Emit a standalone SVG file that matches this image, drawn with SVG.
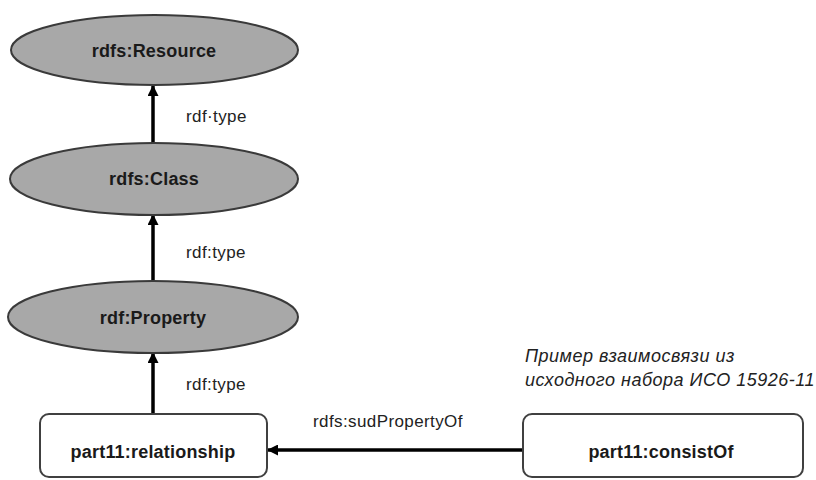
<svg xmlns="http://www.w3.org/2000/svg" width="816" height="480" viewBox="0 0 816 480">
<style>
.ell{fill:#a8a8a8;stroke:#3a3a3a;stroke-width:2}
.box{fill:#fff;stroke:#404040;stroke-width:2}
.nt{font-family:"Liberation Sans",Arial,sans-serif;font-weight:bold;font-size:18px;fill:#1a1a1a;text-anchor:middle;letter-spacing:0.2px}
.lb{font-family:"Liberation Sans",Arial,sans-serif;font-size:17px;fill:#222;letter-spacing:0.4px}
.it{font-family:"Liberation Sans",Arial,sans-serif;font-size:18px;font-style:italic;fill:#222;letter-spacing:0.5px}
.edge{stroke:#000;stroke-width:3.5;fill:none;marker-end:url(#ah)}
</style>
<defs>
<marker id="ah" markerWidth="11" markerHeight="11" refX="10" refY="5.5" orient="auto" markerUnits="userSpaceOnUse" viewBox="0 0 11 11">
<path d="M0,0 L11,5.5 L0,11 Z" fill="#000"/>
</marker>
</defs>
<g id="edges">
<line class="edge" x1="153" y1="143" x2="153" y2="86"/>
<line class="edge" x1="153" y1="281" x2="153" y2="215"/>
<line class="edge" x1="153" y1="414" x2="153" y2="353"/>
<line class="edge" x1="523" y1="450" x2="268" y2="450"/>
<text class="lb" x="186" y="122">rdf·type</text>
<text class="lb" x="186" y="258">rdf:type</text>
<text class="lb" x="186" y="390">rdf:type</text>
<text class="lb" x="313" y="427">rdfs:sudPropertyOf</text>
</g>
<g id="n-resource">
<ellipse class="ell" cx="154.5" cy="50" rx="143.5" ry="35"/>
<text class="nt" x="154" y="57">rdfs:Resource</text>
</g>
<g id="n-class">
<ellipse class="ell" cx="154" cy="179" rx="144" ry="36"/>
<text class="nt" x="154" y="185">rdfs:Class</text>
</g>
<g id="n-property">
<ellipse class="ell" cx="153" cy="317" rx="145" ry="36"/>
<text class="nt" x="153" y="324">rdf:Property</text>
</g>
<g id="n-relationship">
<rect class="box" x="40" y="414" width="227" height="63" rx="9"/>
<text class="nt" x="153" y="458">part11:relationship</text>
</g>
<g id="n-consistof">
<rect class="box" x="523" y="414" width="280" height="63" rx="9"/>
<text class="nt" x="661" y="458">part11:consistOf</text>
</g>
<g id="note">
<text class="it" x="525" y="362">Пример взаимосвязи из</text>
<text class="it" x="525" y="386">исходного набора ИСО 15926-11</text>
</g>
</svg>
